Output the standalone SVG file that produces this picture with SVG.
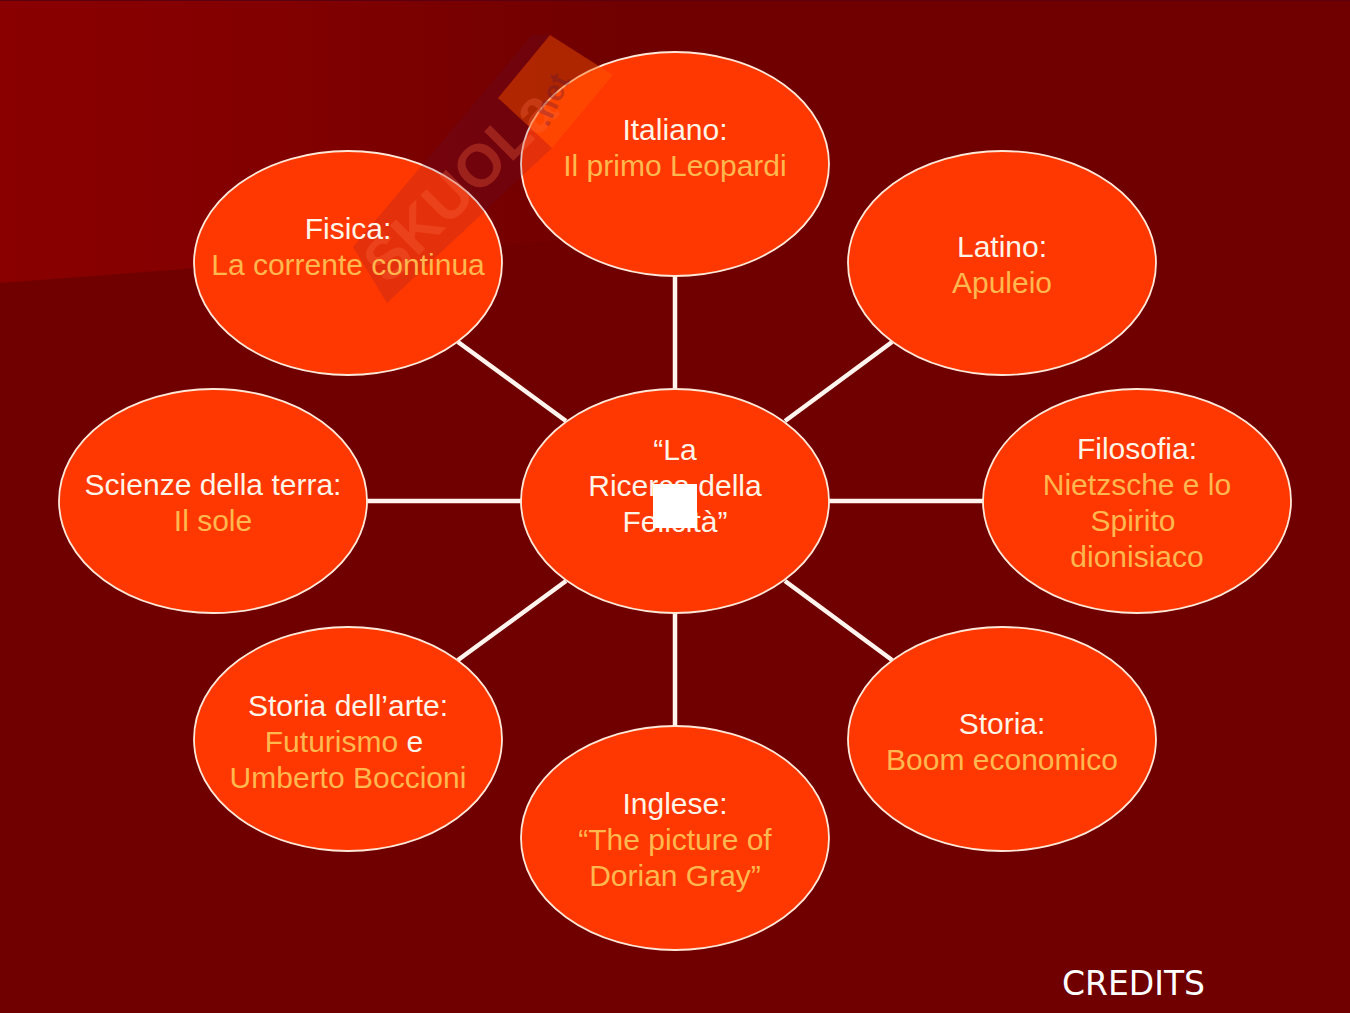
<svg xmlns="http://www.w3.org/2000/svg" width="1350" height="1013" viewBox="0 0 1350 1013">
<defs>
<linearGradient id="sheen" gradientUnits="userSpaceOnUse" x1="0" y1="100" x2="620" y2="100"><stop offset="0" stop-color="#8a0000"/><stop offset="0.45" stop-color="#820000"/><stop offset="1" stop-color="#700000"/></linearGradient>
</defs>
<style>
.n{fill:#ff3700;stroke:#ffe8d8;stroke-width:1.8}
.c{stroke:#fff4ee;stroke-width:4.5;fill:none}
text{font-family:"Liberation Sans",Arial,sans-serif;font-size:30px;text-anchor:middle;fill:#fff4e8}
.y{fill:#ffb84f}
</style>
<rect width="1350" height="1013" fill="#700000"/>
<path d="M0 1H620V236L0 283Z" fill="url(#sheen)"/>
<rect width="1350" height="1" fill="#5a0010"/>
<g id="connectors">
<line class="c" x1="675" y1="276" x2="675" y2="389"/>
<line class="c" x1="892" y1="342" x2="785" y2="421"/>
<line class="c" x1="983" y1="501" x2="829" y2="501"/>
<line class="c" x1="892" y1="660" x2="785" y2="581"/>
<line class="c" x1="675" y1="726" x2="675" y2="613"/>
<line class="c" x1="458" y1="660" x2="566" y2="581"/>
<line class="c" x1="367" y1="501" x2="521" y2="501"/>
<line class="c" x1="458" y1="342" x2="566" y2="421"/>
</g>
<g id="node-centre"><ellipse class="n" cx="675" cy="501" rx="154" ry="112"/><text x="675" y="460">“La</text><text x="675" y="496">Ricerca della</text><text x="675" y="532">Felicità”</text></g>
<g id="node-italiano"><ellipse class="n" cx="675" cy="164" rx="154" ry="112"/></g>
<g id="node-latino"><ellipse class="n" cx="1002" cy="263" rx="154" ry="112"/><text x="1002" y="257">Latino:</text><text class="y" x="1002" y="293">Apuleio</text></g>
<g id="node-filosofia"><ellipse class="n" cx="1137" cy="501" rx="154" ry="112"/><text x="1137" y="459">Filosofia:</text><text class="y" x="1137" y="495">Nietzsche e lo</text><text class="y" x="1133" y="531">Spirito</text><text class="y" x="1137" y="567">dionisiaco</text></g>
<g id="node-storia"><ellipse class="n" cx="1002" cy="739" rx="154" ry="112"/><text x="1002" y="734">Storia:</text><text class="y" x="1002" y="770">Boom economico</text></g>
<g id="node-inglese"><ellipse class="n" cx="675" cy="838" rx="154" ry="112"/><text x="675" y="814">Inglese:</text><text class="y" x="675" y="850">“The picture of</text><text class="y" x="675" y="886">Dorian Gray”</text></g>
<g id="node-arte"><ellipse class="n" cx="348" cy="739" rx="154" ry="112"/><text x="348" y="716">Storia dell’arte:</text><text x="344" y="752"><tspan class="y">Futurismo</tspan> e</text><text class="y" x="348" y="788">Umberto Boccioni</text></g>
<g id="node-scienze"><ellipse class="n" cx="213" cy="501" rx="154" ry="112"/><text x="213" y="495">Scienze della terra:</text><text class="y" x="213" y="531">Il sole</text></g>
<g id="node-fisica"><ellipse class="n" cx="348" cy="263" rx="154" ry="112"/></g>
<g id="watermark">
<path d="M532 35L353 247L387 303L552 148L498 98L550 35Z" fill="#5a1048" opacity="0.16"/>
<path d="M498 98L550 35L613 75L552 148Z" fill="#ff5a00" opacity="0.42"/>
<text transform="translate(388 286) rotate(-45)" style="font-size:60px;font-weight:bold;fill:#ff6a40;opacity:.3;text-anchor:start">SKUOLa</text>
<text transform="translate(548 128) rotate(-65)" style="font-size:30px;font-weight:bold;fill:#5a1040;opacity:.3;text-anchor:start">.net</text>
</g>
<g id="label-italiano"><text x="675" y="140">Italiano:</text><text class="y" x="675" y="176">Il primo Leopardi</text></g>
<g id="label-fisica"><text x="348" y="239">Fisica:</text><text class="y" x="348" y="275">La corrente continua</text></g>
<rect id="marker" x="653" y="484" width="44" height="44" fill="#fff"/>
<text x="1133.500" y="995" style="font-family:'DejaVu Sans',sans-serif;font-size:33px;fill:#fff">CREDITS</text>
</svg>
